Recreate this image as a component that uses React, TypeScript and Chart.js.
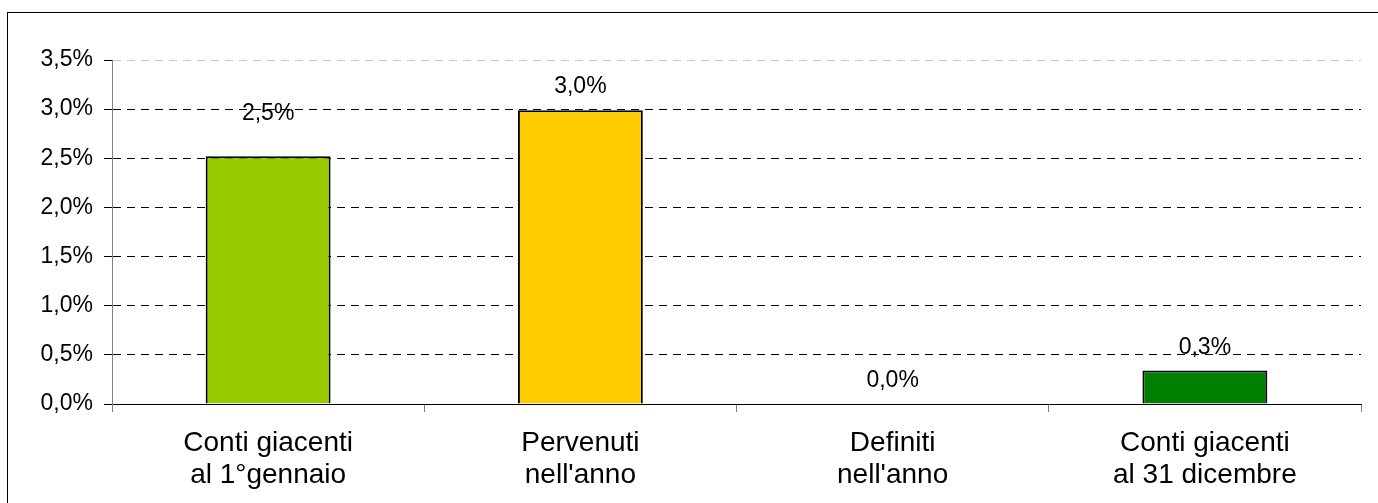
import React, { useEffect, useRef } from "react";
import { Chart, registerables } from "chart.js";

Chart.register(...registerables);

const categories: string[][] = [
  ["Conti giacenti", "al 1°gennaio"],
  ["Pervenuti", "nell'anno"],
  ["Definiti", "nell'anno"],
  ["Conti giacenti", "al 31 dicembre"],
];
const values: number[] = [2.52, 2.99, 0, 0.34];
const barColors: string[] = ["#99CC00", "#FFCC00", "#FF6600", "#008000"];
const yTicks: number[] = [0, 0.5, 1, 1.5, 2, 2.5, 3, 3.5];

const FONT = "'Liberation Sans', Arial, sans-serif";
const fmt = (v: number) => v.toFixed(1).replace(".", ",") + "%";

const labelPlugin = {
  id: "valueLabels",
  afterDatasetsDraw(chart: any) {
    const ctx = chart.ctx;
    const meta = chart.getDatasetMeta(0);
    ctx.save();
    ctx.font = `23px ${FONT}`;
    ctx.fillStyle = "#000";
    ctx.textAlign = "center";
    ctx.textBaseline = "middle";
    meta.data.forEach((bar: any, i: number) => {
      const off = i === 0 ? 43 : 23;
      ctx.fillText(fmt(values[i]), bar.x, bar.y - off);
    });
    ctx.restore();
  },
};

export default function App() {
  const ref = useRef<HTMLCanvasElement>(null);
  useEffect(() => {
    document.body.style.overflow = "hidden";
    const chart = new Chart(ref.current!, {
      type: "bar",
      data: {
        labels: categories,
        datasets: [
          {
            data: values,
            backgroundColor: barColors,
            borderColor: "#000",
            borderWidth: 2,
            barPercentage: 0.4,
            categoryPercentage: 1,
          },
        ],
      },
      options: {
        responsive: false,
        animation: false,
        devicePixelRatio: 1,
        layout: { padding: { left: 0, top: 47, right: 17, bottom: 0 } },
        plugins: { legend: { display: false }, tooltip: { enabled: false } },
        scales: {
          x: {
            afterFit: (s: any) => {
              s.height = 99;
            },
            grid: {
              drawOnChartArea: false,
              drawTicks: true,
              tickLength: 8,
              tickColor: "#808080",
              offset: true,
            },
            border: { color: "#000", width: 1 },
            ticks: {
              font: { family: FONT, size: 28, lineHeight: 1.143 },
              color: "#000",
              padding: 15,
              maxRotation: 0,
              autoSkip: false,
            },
          },
          y: {
            min: 0,
            max: 3.5,
            afterFit: (s: any) => {
              s.width = 104;
            },
            afterBuildTicks: (s: any) => {
              s.ticks = yTicks.map((v) => ({ value: v }));
            },
            grid: {
              color: (c: any) => (c.tick && c.tick.value === 3.5 ? "#c8c8c8" : "#000"),
              lineWidth: 1,
              tickBorderDash: [],
              tickColor: "#000",
              tickLength: 8,
            },
            border: { color: "#808080", width: 1, dash: [8, 6] },
            ticks: {
              font: { family: FONT, size: 23 },
              color: "#000",
              padding: 11,
              callback: (v: any) => fmt(Number(v)),
            },
          },
        },
      },
      plugins: [labelPlugin],
    });
    return () => chart.destroy();
  }, []);

  return (
    <div
      style={{
        position: "fixed",
        left: 7,
        top: 12,
        width: 1371,
        height: 491,
        boxSizing: "border-box",
        borderTop: "1px solid #000",
        borderLeft: "1px solid #000",
        background: "#fff",
      }}
    >
      <canvas ref={ref} width={1370} height={490} style={{ display: "block" }} />
    </div>
  );
}
